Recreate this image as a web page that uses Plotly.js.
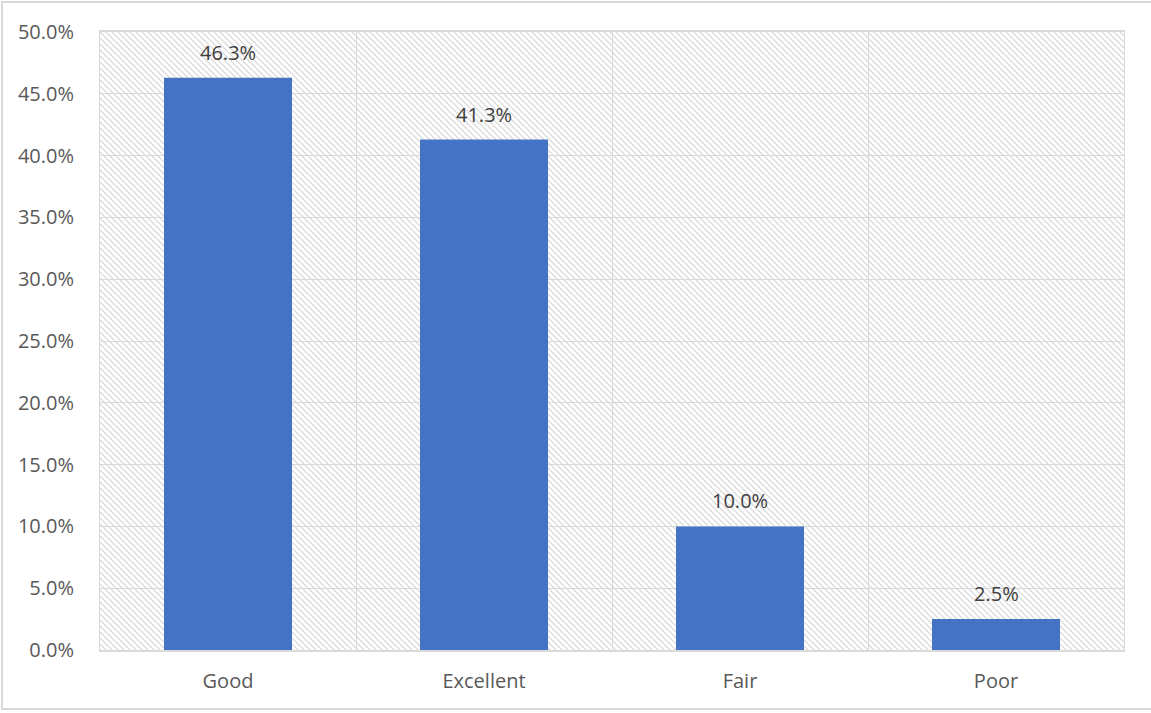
<!DOCTYPE html>
<html>
<head>
<meta charset="utf-8">
<script src="https://cdn.plot.ly/plotly-3.0.1.min.js"></script>
<style>
  html, body { margin: 0; padding: 0; background: #fff; overflow: hidden; }
  #frame { position: absolute; left: 1px; top: 1px; width: 1160px; height: 709px; border: 2px solid #d9d9d9; box-sizing: border-box; }
  #chart { position: absolute; left: 0; top: 0; width: 1151px; height: 713px; }
</style>
</head>
<body>
<div id="frame"></div>
<div id="chart"></div>
<script>
const categories = ["Good", "Excellent", "Fair", "Poor"];
const values = [46.3, 41.3, 10.0, 2.5];
const labels = ["46.3%", "41.3%", "10.0%", "2.5%"];
const yTicks = [0, 5, 10, 15, 20, 25, 30, 35, 40, 45, 50];

const W = 1151, H = 713;
const margin = { l: 100, r: 27, t: 32, b: 63 };
const pw = W - margin.l - margin.r, ph = H - margin.t - margin.b;

const svg = '<svg xmlns="http://www.w3.org/2000/svg" width="' + pw + '" height="' + ph + '" viewBox="0 0 ' + pw + ' ' + ph + '" preserveAspectRatio="none">' +
  '<defs><pattern id="p" patternUnits="userSpaceOnUse" width="6" height="6">' +
  '<path d="M-1,5 L1,7 M0,0 L6,6 M5,-1 L7,1" stroke="#dadada" stroke-width="1.3"/>' +
  '</pattern></defs><rect width="100%" height="100%" fill="#fff"/><rect width="100%" height="100%" fill="url(#p)"/></svg>';

const trace = {
  type: "bar",
  x: categories,
  y: values,
  marker: { color: "#4472C4" },
  hoverinfo: "skip"
};

const annotations = categories.map((c, i) => ({
  x: c, y: values[i], xref: "x", yref: "y",
  text: labels[i], showarrow: false,
  yanchor: "bottom", yshift: 10,
  font: { family: "Open Sans, Noto Sans, sans-serif", size: 20, color: "#404040" }
}));

const layout = {
  width: W, height: H,
  margin: margin,
  paper_bgcolor: "rgba(0,0,0,0)",
  plot_bgcolor: "rgba(0,0,0,0)",
  showlegend: false,
  bargap: 0.5,
  font: { family: "Open Sans, Noto Sans, sans-serif", size: 20, color: "#595959" },
  xaxis: {
    type: "category",
    tickson: "boundaries",
    showgrid: true, gridcolor: "#d9d9d9", gridwidth: 1,
    showline: true, linecolor: "#d9d9d9", linewidth: 2, mirror: true,
    ticks: "", ticklabelstandoff: 12,
    tickfont: { size: 20, color: "#595959" },
    fixedrange: true
  },
  yaxis: {
    range: [0, 50],
    tickvals: yTicks,
    ticktext: yTicks.map(v => v.toFixed(1) + "%"),
    showgrid: true, gridcolor: "#d9d9d9", gridwidth: 1,
    zeroline: false,
    showline: true, linecolor: "#d9d9d9", linewidth: 1, mirror: true,
    ticks: "", ticklabelstandoff: 21,
    tickfont: { size: 20, color: "#595959" },
    fixedrange: true
  },
  images: [{
    source: "data:image/svg+xml;charset=utf-8," + encodeURIComponent(svg),
    xref: "paper", yref: "paper", x: 0, y: 1, sizex: 1, sizey: 1,
    xanchor: "left", yanchor: "top", sizing: "stretch", layer: "below"
  }],
  annotations: annotations
};

Plotly.newPlot("chart", [trace], layout, { displayModeBar: false, staticPlot: true });
</script>
</body>
</html>
